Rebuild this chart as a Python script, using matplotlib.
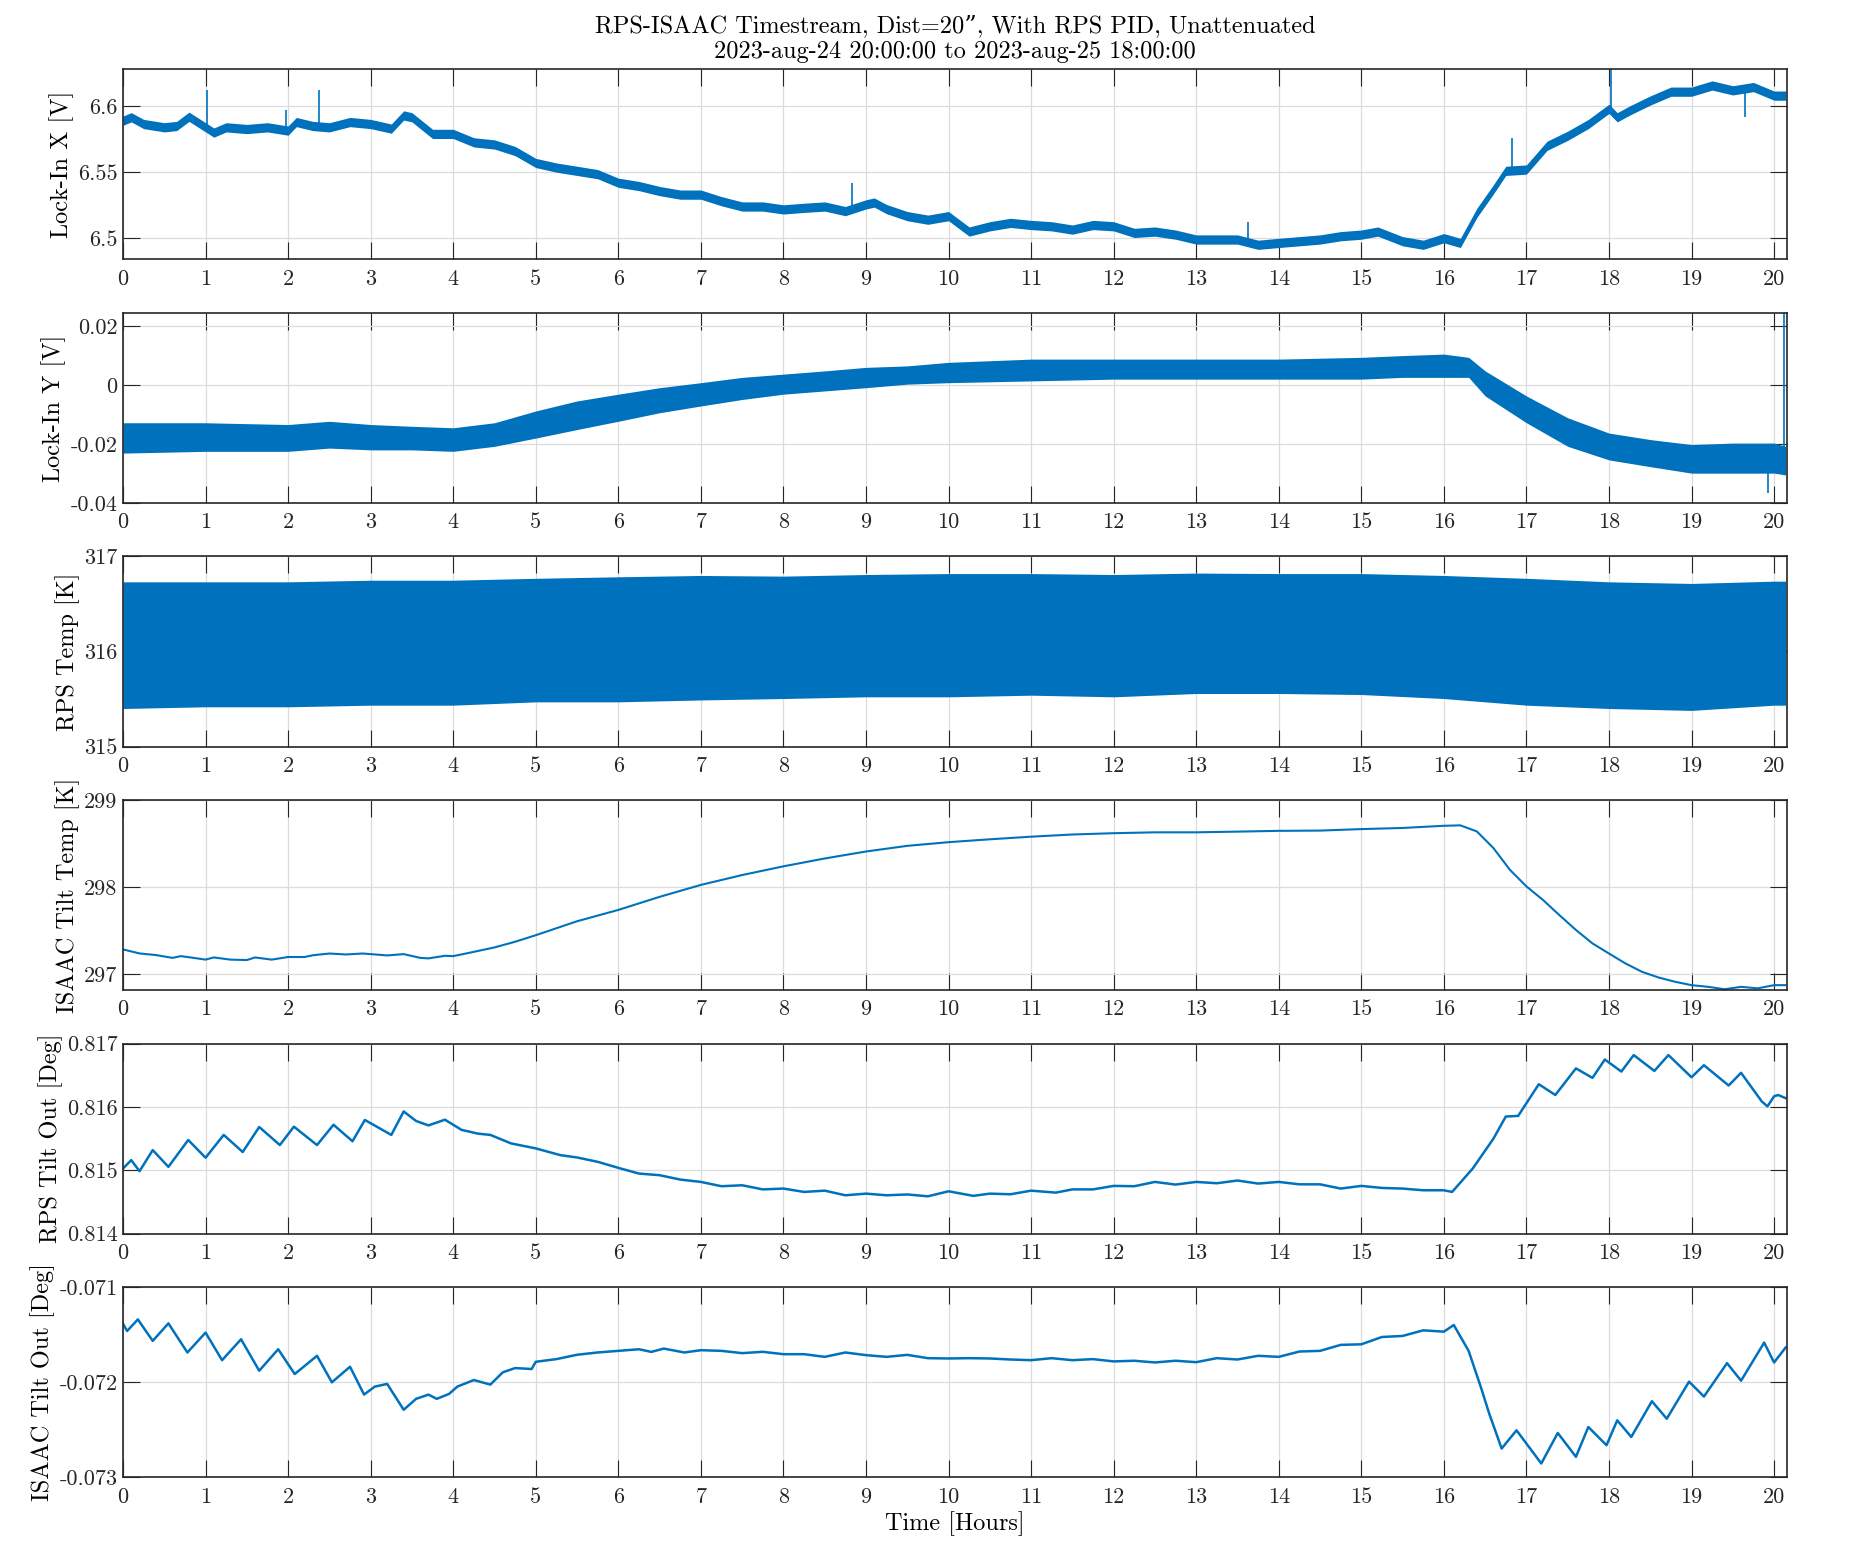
import numpy as np
import matplotlib.pyplot as plt

plt.rcParams['font.family'] = ['cmr10', 'DejaVu Serif']
plt.rcParams['mathtext.fontset'] = 'cm'
plt.rcParams['axes.formatter.use_mathtext'] = True

blue = '#0072BD'

# ---- Lock-In X [V] (noisy band: centre +- half width) ----
t_x = [0, 0.1, 0.25, 0.5, 0.65, 0.8, 1.0, 1.1, 1.25, 1.5, 1.75, 2.0, 2.1, 2.3, 2.5, 2.75,
       3.0, 3.25, 3.4, 3.5, 3.75, 4.0, 4.25, 4.5, 4.75, 5.0, 5.25, 5.5, 5.75, 6.0, 6.25,
       6.5, 6.75, 7.0, 7.25, 7.5, 7.75, 8.0, 8.25, 8.5, 8.75, 9.0, 9.1, 9.25, 9.5, 9.75,
       10.0, 10.25, 10.5, 10.75, 11.0, 11.25, 11.5, 11.75, 12.0, 12.25, 12.5, 12.75, 13.0,
       13.25, 13.5, 13.75, 14.0, 14.25, 14.5, 14.75, 15.0, 15.2, 15.5, 15.75, 16.0, 16.2,
       16.4, 16.6, 16.75, 17.0, 17.25, 17.5, 17.75, 18.0, 18.1, 18.25, 18.5, 18.75, 19.0,
       19.25, 19.5, 19.75, 20.0, 20.14]
lock_x = [6.589, 6.5916, 6.5865, 6.584, 6.585, 6.592, 6.584, 6.580, 6.584, 6.5827, 6.584,
          6.5815, 6.588, 6.585, 6.584, 6.588, 6.5865, 6.583, 6.593, 6.5916, 6.579, 6.579,
          6.5726, 6.571, 6.566, 6.557, 6.5535, 6.551, 6.5485, 6.542, 6.5395, 6.5357, 6.533,
          6.533, 6.528, 6.524, 6.524, 6.5218, 6.523, 6.524, 6.5205, 6.5256, 6.527, 6.522,
          6.5167, 6.514, 6.5167, 6.505, 6.509, 6.5116, 6.510, 6.509, 6.5065, 6.510, 6.509,
          6.504, 6.505, 6.5027, 6.499, 6.499, 6.499, 6.495, 6.4964, 6.4977, 6.499, 6.5015,
          6.5027, 6.505, 6.4977, 6.495, 6.500, 6.4964, 6.5192, 6.537, 6.551, 6.552, 6.570,
          6.5776, 6.5865, 6.598, 6.5916, 6.5967, 6.6043, 6.611, 6.611, 6.6157, 6.612, 6.6145,
          6.608, 6.608]
lock_x_noise = 0.0035
lock_x_spike_t = [1.02, 1.98, 2.38, 8.83, 13.63, 16.82, 18.02, 19.65]
lock_x_spike_v = [6.612, 6.597, 6.612, 6.5416, 6.5124, 6.576, 6.628, 6.5916]

# ---- Lock-In Y [V] (upper / lower envelope) ----
t_y = [0, 1, 2, 2.5, 3, 3.5, 4, 4.5, 5, 5.5, 6, 6.5, 7, 7.5, 8, 8.5, 9, 9.5, 10, 11, 12,
       13, 14, 15, 15.5, 16, 16.3, 16.5, 17, 17.5, 18, 18.5, 19, 19.5, 20, 20.14]
lock_y_hi = [-0.0128, -0.0128, -0.0134, -0.0123, -0.0134, -0.0140, -0.0145, -0.0128,
             -0.0088, -0.0054, -0.0031, -0.0009, 0.0008, 0.0026, 0.0037, 0.0048, 0.0060,
             0.0065, 0.0077, 0.0088, 0.0088, 0.0088, 0.0088, 0.0094, 0.0100, 0.0105, 0.0094,
             0.0048, -0.0037, -0.0111, -0.0163, -0.0185, -0.0202, -0.0197, -0.0197, -0.0208]
lock_y_lo = [-0.0231, -0.0225, -0.0225, -0.0214, -0.0220, -0.0220, -0.0225, -0.0208,
             -0.0180, -0.0151, -0.0123, -0.0094, -0.0071, -0.0049, -0.0031, -0.0020, -0.0009,
             0.0003, 0.0008, 0.0014, 0.0020, 0.0020, 0.0020, 0.0020, 0.0026, 0.0026, 0.0026,
             -0.0037, -0.0128, -0.0208, -0.0254, -0.0277, -0.0299, -0.0299, -0.0299, -0.0305]
lock_y_spike_t = [19.93, 20.12]
lock_y_spike_v = [-0.0365, 0.0245]

# ---- RPS Temp [K] (upper / lower envelope) ----
t_rps = [0, 1, 2, 3, 4, 5, 6, 7, 8, 9, 10, 11, 12, 13, 14, 15, 16, 17, 18, 19, 20, 20.14]
rps_hi = [316.733, 316.733, 316.733, 316.75, 316.75, 316.77, 316.786, 316.80, 316.793,
          316.81, 316.82, 316.82, 316.81, 316.825, 316.82, 316.82, 316.80, 316.77, 316.733,
          316.716, 316.74, 316.74]
rps_lo = [315.40, 315.418, 315.418, 315.435, 315.435, 315.47, 315.47, 315.49, 315.505,
          315.523, 315.523, 315.54, 315.523, 315.558, 315.558, 315.547, 315.505, 315.435,
          315.40, 315.38, 315.435, 315.435]

# ---- ISAAC Tilt Temp [K] ----
t_it = [0, 0.2, 0.4, 0.6, 0.7, 0.9, 1.0, 1.1, 1.3, 1.5, 1.6, 1.8, 2.0, 2.2, 2.3, 2.5, 2.7,
        2.9, 3.0, 3.2, 3.4, 3.6, 3.7, 3.9, 4.0, 4.2, 4.5, 4.75, 5.0, 5.5, 6.0, 6.5, 7.0,
        7.5, 8.0, 8.5, 9.0, 9.5, 10.0, 10.5, 11.0, 11.5, 12.0, 12.5, 13.0, 13.5, 14.0, 14.5,
        15.0, 15.5, 16.0, 16.2, 16.4, 16.6, 16.8, 17.0, 17.2, 17.4, 17.6, 17.8, 18.0, 18.2,
        18.4, 18.6, 18.8, 19.0, 19.2, 19.4, 19.6, 19.8, 20.0, 20.14]
isaac_temp = [297.287, 297.241, 297.222, 297.19, 297.21, 297.184, 297.17, 297.195, 297.17,
              297.165, 297.195, 297.17, 297.20, 297.20, 297.22, 297.24, 297.229, 297.24,
              297.233, 297.218, 297.233, 297.19, 297.184, 297.214, 297.21, 297.249, 297.31,
              297.375, 297.45, 297.61, 297.74, 297.89, 298.027, 298.14, 298.24, 298.33,
              298.41, 298.475, 298.517, 298.55, 298.58, 298.605, 298.62, 298.63, 298.63,
              298.638, 298.647, 298.65, 298.667, 298.68, 298.705, 298.71, 298.64, 298.45,
              298.20, 298.01, 297.855, 297.68, 297.51, 297.356, 297.24, 297.126, 297.03,
              296.965, 296.916, 296.877, 296.858, 296.83, 296.858, 296.84, 296.877, 296.877]

# ---- RPS Tilt Out [Deg] ----
t_rt = [0, 0.1, 0.2, 0.36, 0.55, 0.79, 1.0, 1.22, 1.45, 1.65, 1.9, 2.07, 2.35, 2.55, 2.78,
        2.93, 3.25, 3.4, 3.55, 3.7, 3.9, 4.1, 4.3, 4.45, 4.7, 5.0, 5.3, 5.5, 5.75, 6.0, 6.25,
        6.5, 6.75, 7.0, 7.25, 7.5, 7.75, 8.0, 8.25, 8.5, 8.75, 9.0, 9.25, 9.5, 9.75, 10.0,
        10.3, 10.5, 10.75, 11.0, 11.3, 11.5, 11.75, 12.0, 12.25, 12.5, 12.75, 13.0, 13.25,
        13.5, 13.75, 14.0, 14.25, 14.5, 14.75, 15.0, 15.25, 15.5, 15.75, 16.0, 16.1, 16.35,
        16.6, 16.75, 16.9, 17.15, 17.35, 17.6, 17.8, 17.95, 18.15, 18.3, 18.55, 18.72, 19.0,
        19.15, 19.45, 19.6, 19.85, 19.92, 20.0, 20.05, 20.14]
rps_tilt = [0.81503, 0.815162, 0.814987, 0.81532, 0.815056, 0.81548, 0.8152, 0.81556,
            0.81529, 0.815685, 0.8154, 0.81569, 0.8154, 0.81572, 0.81546, 0.815796, 0.81556,
            0.81593, 0.81578, 0.81571, 0.8158, 0.81564, 0.81558, 0.81556, 0.815426, 0.815347,
            0.81524, 0.815204, 0.815135, 0.81504, 0.81495, 0.814924, 0.814855, 0.814818,
            0.81475, 0.814765, 0.8147, 0.814713, 0.81466, 0.81468, 0.814607, 0.814633,
            0.814607, 0.81462, 0.814591, 0.81467, 0.814598, 0.814633, 0.814623, 0.81468,
            0.814649, 0.8147, 0.8147, 0.814755, 0.81475, 0.814818, 0.814776, 0.814818,
            0.814797, 0.81484, 0.814792, 0.814818, 0.81478, 0.81478, 0.814713, 0.814755,
            0.814723, 0.814713, 0.814686, 0.814686, 0.81466, 0.81503, 0.8155, 0.81585,
            0.81586, 0.81636, 0.81619, 0.81661, 0.81646, 0.81675, 0.81656, 0.81682, 0.81657,
            0.81682, 0.81647, 0.81666, 0.81634, 0.81654, 0.81609, 0.81601, 0.81617, 0.81619,
            0.81614]

# ---- ISAAC Tilt Out [Deg] ----
t_io = [0, 0.05, 0.18, 0.36, 0.55, 0.78, 1.0, 1.2, 1.43, 1.65, 1.88, 2.08, 2.35, 2.53, 2.75,
        2.92, 3.05, 3.2, 3.4, 3.55, 3.7, 3.8, 3.95, 4.05, 4.25, 4.45, 4.6, 4.75, 4.95, 5.0,
        5.25, 5.5, 5.75, 6.0, 6.25, 6.4, 6.55, 6.8, 7.0, 7.25, 7.5, 7.75, 8.0, 8.25, 8.5,
        8.75, 9.0, 9.25, 9.5, 9.75, 10.0, 10.25, 10.5, 10.75, 11.0, 11.25, 11.5, 11.75, 12.0,
        12.25, 12.5, 12.75, 13.0, 13.25, 13.5, 13.75, 14.0, 14.25, 14.5, 14.75, 15.0, 15.25,
        15.5, 15.75, 16.0, 16.12, 16.3, 16.45, 16.55, 16.7, 16.88, 17.18, 17.38, 17.6, 17.75,
        17.97, 18.1, 18.27, 18.52, 18.7, 18.97, 19.15, 19.43, 19.6, 19.88, 20.0, 20.14]
isaac_tilt = [-0.071383, -0.07146, -0.071338, -0.071564, -0.07138, -0.071686, -0.071477,
              -0.071767, -0.071547, -0.071878, -0.071652, -0.071913, -0.071721, -0.072,
              -0.071836, -0.072129, -0.072045, -0.072017, -0.072289, -0.072174, -0.072129,
              -0.072174, -0.072122, -0.072045, -0.071976, -0.072024, -0.071895, -0.07185,
              -0.07186, -0.071784, -0.071756, -0.07171, -0.071686, -0.071669, -0.071652,
              -0.07168, -0.071645, -0.071686, -0.071662, -0.071669, -0.071693, -0.071679,
              -0.071704, -0.071704, -0.071732, -0.071686, -0.071714, -0.071732, -0.071711,
              -0.071746, -0.071749, -0.071746, -0.071749, -0.07176, -0.071767, -0.071746,
              -0.071767, -0.071756, -0.07178, -0.071773, -0.071791, -0.071773, -0.071788,
              -0.071746, -0.07176, -0.071721, -0.071732, -0.071676, -0.071669, -0.071606,
              -0.0716, -0.071523, -0.071512, -0.071453, -0.071467, -0.071397, -0.071669,
              -0.072056, -0.072331, -0.072697, -0.072505, -0.072854, -0.072533, -0.072784,
              -0.07247, -0.072662, -0.0724, -0.072575, -0.072199, -0.072383, -0.071993,
              -0.07215, -0.071798, -0.071983, -0.071582, -0.071791, -0.071634]

x_ticks = list(range(0, 21))
ylabels = ['Lock-In X [V]', 'Lock-In Y [V]', 'RPS Temp [K]', 'ISAAC Tilt Temp [K]',
           'RPS Tilt Out [Deg]', 'ISAAC Tilt Out [Deg]']
ylims = [(6.484, 6.628), (-0.04, 0.0245), (315, 317), (296.82, 299), (0.814, 0.817),
         (-0.073, -0.071)]
yticks = [[6.5, 6.55, 6.6], [-0.04, -0.02, 0, 0.02], [315, 316, 317], [297, 298, 299],
          [0.814, 0.815, 0.816, 0.817], [-0.073, -0.072, -0.071]]
yticklabels = [['6.5', '6.55', '6.6'], ['-0.04', '-0.02', '0', '0.02'],
               ['315', '316', '317'], ['297', '298', '299'],
               ['0.814', '0.815', '0.816', '0.817'], ['-0.073', '-0.072', '-0.071']]

fig = plt.figure(figsize=(18.75, 15.63), dpi=100)
axes = []
for i in range(6):
    ax = fig.add_axes([0.0656, 0.8341 - i * 0.15586, 0.8874, 0.1216])
    axes.append(ax)

ax = axes[0]
cx = np.array(lock_x)
ax.fill_between(t_x, cx - lock_x_noise, cx + lock_x_noise, color=blue, lw=0)
ax.plot(t_x, cx, color=blue, lw=1)
ax.vlines(lock_x_spike_t, np.interp(lock_x_spike_t, t_x, cx), lock_x_spike_v, color=blue, lw=1.2)

ax = axes[1]
ax.fill_between(t_y, lock_y_lo, lock_y_hi, color=blue, lw=0)
ax.vlines(lock_y_spike_t, np.interp(lock_y_spike_t, t_y, lock_y_lo), lock_y_spike_v,
          color=blue, lw=1.2)

ax = axes[2]
ax.fill_between(t_rps, rps_lo, rps_hi, color=blue, lw=0)

axes[3].plot(t_it, isaac_temp, color=blue, lw=1.5)
axes[4].plot(t_rt, rps_tilt, color=blue, lw=1.8)
axes[5].plot(t_io, isaac_tilt, color=blue, lw=1.8)

for i, ax in enumerate(axes):
    ax.set_xlim(0, 20.155)
    ax.set_ylim(*ylims[i])
    ax.set_xticks(x_ticks)
    ax.set_xticklabels([str(v) for v in x_ticks])
    ax.set_yticks(yticks[i])
    ax.set_yticklabels(yticklabels[i])
    ax.set_ylabel(ylabels[i], fontsize=17.5, labelpad=3)
    ax.grid(True, color='#dcdcdc', lw=0.9)
    ax.set_axisbelow(True)
    ax.tick_params(direction='in', length=12, width=0.8, colors='#262626',
                   labelsize=16, top=True, right=True)
    ax.tick_params(axis='x', pad=7)
    ax.tick_params(axis='y', pad=4)
    for s in ax.spines.values():
        s.set_color('#262626')
        s.set_linewidth(1.2)

axes[0].set_title('RPS-ISAAC Timestream, Dist=20\u201d, With RPS PID, Unattenuated\n'
                  '2023-aug-24 20:00:00 to 2023-aug-25 18:00:00',
                  fontsize=17.5, pad=8, linespacing=1.2)
axes[5].set_xlabel('Time [Hours]', fontsize=17.5, labelpad=3)

fig.savefig('out.png', dpi=100)
